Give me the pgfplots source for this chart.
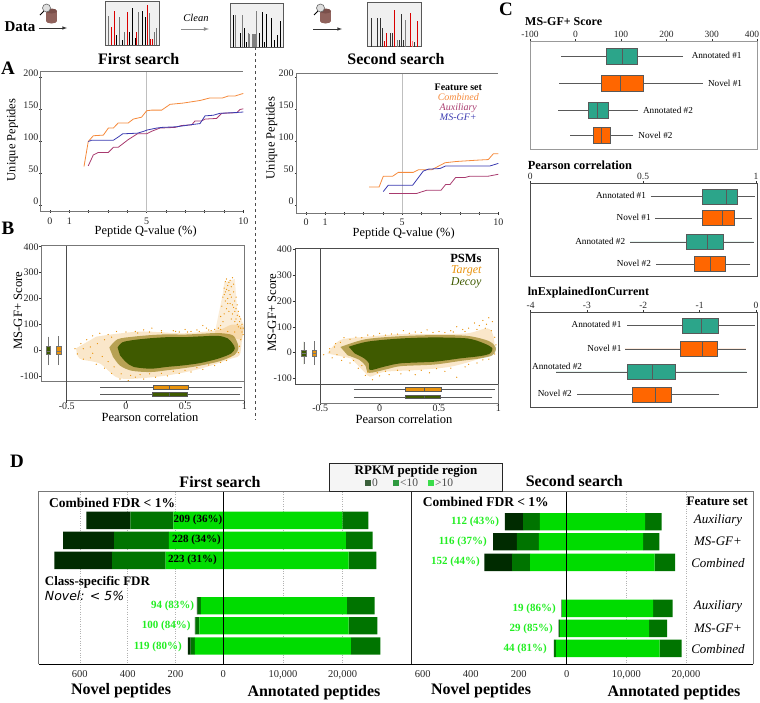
\documentclass[border=0pt]{standalone}
\usepackage{fontspec}
\setmainfont{Liberation Serif}
\newfontfamily\dv{DejaVu Sans}
\usepackage{pgfplots}
\usepgfplotslibrary{statistics}
\pgfplotsset{compat=1.18}

\definecolor{cComb}{HTML}{F58A3C}
\definecolor{cAux}{HTML}{A83A6E}
\definecolor{cMS}{HTML}{3A3AB0}
\definecolor{cTarget}{HTML}{E8920C}
\definecolor{cDecoy}{HTML}{3F5A00}
\definecolor{cTeal}{HTML}{2CA58A}
\definecolor{cOrg}{HTML}{FF6600}
\definecolor{cFrame}{HTML}{777777}
\definecolor{gLight}{HTML}{00DC00}
\definecolor{gMid}{HTML}{007400}
\definecolor{gDark}{HTML}{002B00}
\definecolor{gLabel}{HTML}{22EE22}
\definecolor{cCyl}{HTML}{8F625C}
\definecolor{cCylTop}{HTML}{7A4F4A}

\newcommand\fs[1]{\fontsize{#1}{#1}\selectfont}
\newcommand\T[4][]{\node[inner sep=0pt,#1] at (#2pt,-#3pt) {#4};}
% whisker low, q1, median, q3, whisker high, position, extent, fill
\newcommand\bx[8]{\addplot[boxplot/whisker extend=0,
  boxplot prepared={lower whisker=#1,lower quartile=#2,median=#3,upper quartile=#4,upper whisker=#5,draw position=#6,box extend=#7},
  draw=black!65,line width=0.7pt,fill=#8] coordinates {};}
\newcommand\bxv[8]{\addplot[boxplot/draw direction=y,boxplot/whisker extend=0,
  boxplot prepared={lower whisker=#1,lower quartile=#2,median=#3,upper quartile=#4,upper whisker=#5,draw position=#6,box extend=#7},
  draw=black!55,line width=0.5pt,fill=#8] coordinates {};}
\newcommand\cyl[2]{%
  \fill[cCyl] (#1pt,-#2pt) rectangle ++(11pt,-10pt);
  \fill[cCyl] (#1pt+5.5pt,-#2pt-10pt) ellipse (5.5pt and 2.5pt);
  \fill[cCylTop] (#1pt+5.5pt,-#2pt) ellipse (5.5pt and 2.5pt);
  \draw[black,line width=0.8pt] (#1pt-2pt,-#2pt+0pt) -- (#1pt-6pt,-#2pt-4pt);
  \filldraw[fill=gray!25,draw=black!60,line width=0.6pt] (#1pt+0.5pt,-#2pt+3pt) circle (4pt);}

\pgfplotsset{
  base/.style={scale only axis,anchor=north west,
    /pgf/number format/assume math mode=true,
    tick label style={font=\fs{10},text=black!85},
    tick align=outside,major tick length=2.5pt,tick style={black!80,line width=0.5pt}},
  spec/.style={base,ticks=none,axis line style={black!65,line width=1pt},
    axis background/.style={fill=black!6},ymin=0},
  qval/.style={base,axis lines=left,axis line style={-,cFrame,line width=0.8pt},
    xmax=10,xtick={0,1,...,10},xticklabels={0,1,,,,5,,,,,10},
    ytick={0,50,100,150,200},yticklabel style={yshift=4pt,xshift=2.5pt},
    xticklabel style={yshift=-1pt},clip=false},
  scat/.style={base,axis line style={draw=none},xmax=1,ymin=-194,ymax=404,
    xtick={-0.5,0,0.5,1},xticklabels={-0.5,0,0.5,1},
    ytick={-100,0,100,200,300,400},xtick pos=lower,ytick pos=left,
    yticklabel style={xshift=3pt},xticklabel style={yshift=3.5pt}},
  cbox/.style={base,y dir=reverse,ytick=\empty,xtick pos=upper,xticklabel pos=upper,
    tick label style={font=\fs{9.5},text=black!85},xticklabel style={yshift=-2pt},clip=false},
  dbar/.style={base,xbar stacked,bar width=17.4pt,y dir=reverse,ymin=491.7,ymax=664.3,
    xmin=0,ytick=\empty,axis line style={draw=none},major tick length=0pt,scaled x ticks=false,
    tick label style={font=\fs{10.5},text=black!85},xticklabel style={yshift=-3pt},
    grid style={dotted,black!30,line width=0.5pt}},
}

\pgfplotstableread{
x y
1.76 60
1.98 99
2.24 108
2.76 109
3.02 120
3.28 120
3.53 128
4.05 128
4.31 134
4.74 137
5.00 147
5.26 148
5.78 148
6.21 157
6.90 159
7.76 163
8.28 167
8.93 167
9.22 170
9.57 170
10 174
}\combOne
\pgfplotstableread{
x y
1.98 61
2.24 78
2.5 82
3.02 82
3.28 90
3.53 90
3.79 96
4.05 102
4.31 107
4.52 111
5 111
5.26 115
5.69 120
6.47 121
6.81 124
7.33 125
7.5 131
7.84 131
8.02 134
8.62 135
8.88 143
9.66 144
9.83 149
10 150
}\auxOne
\pgfplotstableread{
x y
1.98 99
2.16 101
3.28 101
3.53 106
3.76 111
4.52 112
4.86 115
5.03 117
5.52 120
5.78 121
6.55 122
7.24 125
7.76 127
8.02 139
8.45 140
8.79 143
9.48 144
10 145
}\msOne
\pgfplotstableread{
x y
3.28 28
3.8 28
4.02 45
4.51 45
4.80 51
5.58 51
5.84 55
6.53 55
7.23 66
7.83 68
8.87 70
9.48 71
9.74 80
10 80
}\combTwo
\pgfplotstableread{
x y
4.32 18
5.75 18
6.27 23
7.02 23
7.26 32
7.49 32
7.78 43
8.27 43
8.53 45
9.48 45
10 48
}\auxTwo
\pgfplotstableread{
x y
4.02 21
4.28 31
5.55 31
6.10 53
6.36 56
6.97 57
7.26 61
9.57 61
10 65
}\msTwo

\begin{document}
\begin{tikzpicture}
\path[use as bounding box] (0,0) rectangle (760pt,-702pt);

% ---- top workflow strip
\begin{axis}[spec,at={(105.7pt,-1.3pt)},width=53.6pt,height=43.7pt,xmin=317,xmax=478,ymax=131]
\addplot[ycomb,black!55,line width=1pt] coordinates {(325,87)(357,85)(374,40)(416,100)(448,97)(463,38)(470,50)};
\addplot[ycomb,black,line width=1pt] coordinates {(349,30)(366,15)(389,38)(397,110)(407,20)(427,102)(436,85)};
\addplot[ycomb,red!85!black,line width=1pt] coordinates {(334,55)(342,102)(382,100)(411,40)(443,120)(453,17)(458,17)};
\end{axis}
\begin{axis}[spec,at={(230.3pt,-3.3pt)},width=53pt,height=44pt,xmin=691,xmax=850,ymax=132]
\addplot[ycomb,black,line width=1pt] coordinates {(700,97)(722,42)(733,57)(740,17)(778,42)(787,105)(795,17)(800,100)(815,87)(825,22)(832,37)(841,79)};
\addplot[ycomb,black!50,line width=1pt] coordinates {(707,97)(727,97)(745,42)(750,39)(770,109)};
\addplot[ybar interval,fill=black!50,draw=none] coordinates {(755,39)(768,39)};
\end{axis}
\begin{axis}[spec,at={(367.7pt,-2.7pt)},width=53.6pt,height=44pt,xmin=1103,xmax=1264,ymax=132]
\addplot[ycomb,black!80,line width=1pt] coordinates {(1113,85)(1132,85)(1142,85)(1147,55)(1170,40)(1177,40)(1198,20)(1205,98)(1212,20)(1244,13)};
\addplot[ycomb,black!50,line width=1pt] coordinates {(1192,20)(1218,80)};
\addplot[ycomb,red!85!black,line width=1pt] coordinates {(1153,18)(1160,40)(1183,110)(1232,100)(1254,78)};
\addplot[ycomb,red!50,line width=1.4pt] coordinates {(1238,18)};
\end{axis}

\T{20}{27}{\fs{15}\bfseries Data}
\cyl{46}{11}\cyl{320}{11}
\draw[black!80,-latex,line width=0.6pt] (39pt,-28pt) -- (67pt,-28pt);
\draw[black!45,-latex,line width=0.8pt] (181pt,-29pt) -- (209pt,-29pt);
\draw[black!80,-latex,line width=0.6pt] (313pt,-29pt) -- (342pt,-29pt);
\T{196}{18}{\fs{10.5}\itshape Clean}
\T{138.7}{59}{\fs{16}\bfseries First search}
\T{396}{59}{\fs{16}\bfseries Second search}
\T{8}{68}{\fs{19}\bfseries A}
\T{8}{228}{\fs{19}\bfseries B}
\T{506}{9}{\fs{19}\bfseries C}
\T{17}{461}{\fs{19}\bfseries D}
\draw[black!70,dashed,line width=0.5pt] (255pt,-47pt) -- (255pt,-420pt);

% ---- panel A
\begin{axis}[qval,at={(40.7pt,-71pt)},width=202.6pt,height=140.7pt,xmin=-0.48,ymin=-10.5,ymax=209]
\draw[black!25,line width=1pt] (axis cs:5,-10.5) -- (axis cs:5,209);
\draw[cFrame,line width=0.8pt] (axis cs:-0.48,209) -- (axis cs:10,209);
\addplot[cComb,line width=0.8pt] table {\combOne};
\addplot[cAux,line width=0.8pt] table {\auxOne};
\addplot[cMS,line width=0.8pt] table {\msOne};
\end{axis}
\begin{axis}[qval,at={(296pt,-73.3pt)},width=202.3pt,height=140pt,xmin=-0.52,ymin=-13,ymax=205.8]
\draw[black!25,line width=1pt] (axis cs:5,-13) -- (axis cs:5,205.8);
\draw[cFrame,line width=0.8pt] (axis cs:-0.52,205.8) -- (axis cs:10,205.8);
\addplot[cComb,line width=0.8pt] table {\combTwo};
\addplot[cAux,line width=0.8pt] table {\auxTwo};
\addplot[cMS,line width=0.8pt] table {\msTwo};
\end{axis}
\T[rotate=90]{12.3}{140}{\fs{12.5}Unique Peptides}
\T[rotate=90]{271.7}{138}{\fs{12.5}Unique Peptides}
\T{145.7}{232}{\fs{12.4}Peptide Q-value (\%)}
\T{403.7}{233.5}{\fs{12.4}Peptide Q-value (\%)}
\T{458.3}{87}{\fs{10}\bfseries Feature set}
\T{458.3}{97.3}{\fs{10}\itshape\color{cComb}Combined}
\T{458.3}{107.7}{\fs{10}\itshape\color{cAux}Auxiliary}
\T{458.3}{117.3}{\fs{10}\itshape\color{cMS}MS-GF+}

% ---- panel B
\begin{axis}[scat,at={(41.7pt,-245.7pt)},width=202.6pt,height=154.5pt,xmin=-0.711]
\addplot[fill=cTarget,draw=none,opacity=0.22,smooth] coordinates {(-.25,52)(-.08,63)(.15,72)(.49,65)(.78,78)(.89,98)(.99,92)(.98,39)(.96,-20)(.89,-33)(.63,-72)(.35,-98)(.065,-111)(-.08,-105)(-.22,-52)(-.39,-33)(-.42,7)};
\addplot[fill=cTarget,draw=none,opacity=0.16] coordinates {(.75,65)(.82,222)(.83,262)(.92,275)(.94,157)(1.0,92)(.98,39)(.88,50)};
\addplot[fill=cTarget!45!cDecoy,draw=none,opacity=0.6,smooth] coordinates {(-.14,10)(-.07,42)(.065,52)(.21,58)(.35,61)(.49,60)(.63,63)(.78,66)(.90,58)(.94,30)(.95,7)(.92,-18)(.80,-42)(.63,-60)(.49,-70)(.35,-78)(.21,-85)(.05,-80)(-.05,-60)(-.11,-25)};
\addplot[only marks,mark=*,mark size=0.35pt,cTarget] coordinates {(.80,130)(.81,170)(.82,205)(.83,240)(.84,265)(.85,275)(.86,250)(.87,230)(.88,270)(.89,245)(.90,280)(.91,225)(.92,190)(.93,160)(.94,175)(.95,150)(.96,130)(.97,120)(.98,100)(.99,85)(.84,190)(.85,160)(.86,200)(.87,150)(.88,180)(.89,120)(.90,140)(.91,165)(.92,110)(.93,120)(.94,100)(.95,90)(.83,140)(.82,110)(.80,95)(.78,85)(.75,80)(.72,75)(.68,85)(.65,95)(.60,78)(.55,72)(.50,80)(.45,70)(.40,75)(.30,75)(.22,85)(.15,78)(.08,72)(0,70)(-.08,72)(-.15,60)(-.22,65)(-.28,55)(-.33,40)(-.38,25)(-.43,5)(-.41,-15)(-.36,-35)(-.30,-30)(-.25,-55)(-.18,-70)(-.12,-90)(-.05,-112)(.02,-118)(.08,-105)(.15,-112)(.25,-105)(.35,-100)(.45,-90)(.55,-85)(.65,-75)(.75,-60)(.85,-40)
(.83,215)(.85,235)(.87,262)(.89,205)(.91,255)(.93,205)(.84,225)(.86,180)(.88,215)(.90,175)(.92,150)(.94,135)(.96,110)(.98,70)(.97,85)(.99,60)(.97,40)(.96,15)(.95,-10)(-.18,40)(-.12,50)(-.24,25)(-.30,12)(-.36,5)(-.28,-12)(-.20,-25)(-.15,-45)(-.10,-65)(-.04,-92)(.04,-98)(.12,-95)(.20,-92)(.30,-90)(.40,-82)(.50,-78)(.60,-68)(.70,-58)(.80,-48)(.88,-25)(.10,66)(.20,70)(.30,68)(.42,72)(.52,70)(.62,72)(.70,78)(.80,80)(.86,72)(.92,70)};
\addplot[fill=cDecoy,draw=none,smooth] coordinates {(-.07,10)(-.03,30)(.065,39)(.21,46)(.35,50)(.49,50)(.63,53)(.78,55)(.86,45)(.90,26)(.92,7)(.89,-13)(.78,-33)(.63,-50)(.49,-59)(.35,-65)(.21,-72)(.065,-65)(0,-46)(-.05,-20)};
\bxv{-58}{-17}{-3}{13}{52}{-.656}{.04}{cDecoy}
\bxv{-58}{-17}{-3}{13}{54}{-.568}{.04}{cTarget}
\bx{-.218}{.23}{.371}{.53}{.977}{-144.5}{13}{cTarget}
\bx{-.218}{.224}{.371}{.52}{.963}{-172}{13}{cDecoy}
\end{axis}
\begin{axis}[scat,at={(295pt,-248.3pt)},width=203.3pt,height=154.5pt,xmin=-0.713]
\addplot[fill=cTarget,draw=none,opacity=0.22,smooth] coordinates {(-.44,-3)(-.33,49)(-.10,62)(.18,72)(.46,72)(.74,75)(.91,94)(.96,62)(.96,4)(.85,-22)(.60,-54)(.32,-67)(.04,-74)(-.08,-93)(-.13,-74)(-.24,-22)};
\addplot[fill=cTarget!45!cDecoy,draw=none,opacity=0.6,smooth] coordinates {(-.33,22)(-.12,52)(.18,64)(.46,68)(.74,65)(.92,45)(.98,18)(.95,-10)(.85,-22)(.68,-32)(.46,-46)(.18,-52)(.06,-64)(-.09,-78)(-.12,-50)(-.17,-28)(-.27,-10)};
\addplot[only marks,mark=*,mark size=0.35pt,cTarget] coordinates {(.95,120)(.92,135)(.90,110)(.87,125)(.84,105)(.80,115)(.75,95)(.70,90)(.65,100)(.60,85)(.50,82)(.40,88)(.30,80)(.20,85)(.10,72)(0,75)(-.10,68)(-.20,60)(-.30,58)(-.37,35)(-.42,15)(-.47,-8)(-.40,-20)(-.32,-30)(-.25,-40)(-.18,-60)(-.12,-88)(-.06,-105)(0,-90)(.08,-85)(.18,-82)(.30,-85)(.42,-78)(.55,-72)(.65,-95)(.72,-55)(.82,-40)(.92,-25)(.97,-5)
(.98,30)(.97,60)(.94,85)(.89,95)(.82,90)(.72,82)(.62,80)(.55,78)(.45,78)(.35,78)(.25,75)(.15,72)(.05,68)(-.05,65)(-.15,58)(-.25,52)(-.33,40)(-.38,22)(-.42,3)(-.36,-8)(-.30,-18)(-.22,-30)(-.15,-50)(-.10,-75)(-.02,-78)(.05,-72)(.15,-68)(.25,-70)(.35,-68)(.48,-62)(.60,-60)(.75,-45)(.87,-28)};
\addplot[fill=cDecoy,draw=none,smooth] coordinates {(-.26,23)(-.10,43)(.18,55)(.46,59)(.74,55)(.88,36)(.95,17)(.93,-3)(.85,-13)(.68,-22)(.46,-35)(.18,-41)(.04,-54)(-.08,-67)(-.09,-41)(-.13,-22)(-.21,-3)};
\bxv{-45}{-13}{-3}{10}{43}{-.638}{.04}{cDecoy}
\bxv{-48}{-13}{-3}{10}{45}{-.55}{.04}{cTarget}
\bx{-.22}{.22}{.374}{.52}{.97}{-142}{13}{cTarget}
\bx{-.216}{.216}{.374}{.508}{.95}{-172}{13}{cDecoy}
\end{axis}
% scatter frames
\draw[cFrame,line width=0.9pt] (41.7pt,-245.7pt) rectangle (244.3pt,-381.7pt);
\draw[cFrame,line width=0.6pt] (244.3pt,-381.7pt) -- (244.3pt,-400.2pt) -- (66.7pt,-400.2pt);
\draw[black!70,line width=0.6pt] (66.7pt,-245.7pt) -- (66.7pt,-400.2pt);
\draw[black!70,line width=0.7pt] (295pt,-248.3pt) rectangle (498.3pt,-384.3pt);
\draw[cFrame,line width=0.6pt] (498.3pt,-384.3pt) -- (498.3pt,-402.8pt) -- (320.3pt,-402.8pt);
\draw[black!70,line width=0.6pt] (320.3pt,-248.3pt) -- (320.3pt,-402.8pt);
\T[rotate=90]{18}{310.7}{\fs{12.7}MS-GF+ Score}
\T[rotate=90]{272}{312.7}{\fs{12.7}MS-GF+ Score}
\T{150}{417}{\fs{12.5}Pearson correlation}
\T{404}{419}{\fs{12.5}Pearson correlation}
\T[anchor=east]{481.7}{258.3}{\fs{12.5}\bfseries PSMs}
\T[anchor=east]{481.7}{270.7}{\fs{12}\itshape\color{cTarget}Target}
\T[anchor=east]{481.7}{283.3}{\fs{12}\itshape\color{cDecoy}Decoy}

% ---- panel C
\begin{axis}[cbox,at={(530pt,-41.7pt)},width=227.3pt,height=107.6pt,xmin=-100,xmax=400,ymin=125,ymax=448,
  xtick={-100,0,100,200,300,400},xticklabels={-100,0,100,200,300,{}},axis line style={black!40,line width=1pt}]
\bx{-31.8}{69}{103}{137}{237}{168}{48}{cTeal}
\bx{-35.5}{58}{98}{148.5}{280}{250}{48}{cOrg}
\bx{-38.4}{27.6}{48}{72.3}{138}{331}{48}{cTeal}
\bx{-12}{40}{58}{77.4}{127}{406}{48}{cOrg}
\node[font=\fs{9.2}] at (axis cs:310.6,167) {Annotated \#1};
\node[font=\fs{9.2}] at (axis cs:329,250) {Novel \#1};
\node[font=\fs{9.2}] at (axis cs:203.5,330) {Annotated \#2};
\node[font=\fs{9.2}] at (axis cs:176,405) {Novel \#2};
\end{axis}
\T{752}{34}{\fs{9.5}\color{black!85}400}
\begin{axis}[cbox,at={(530.3pt,-183.3pt)},width=227pt,height=92.7pt,xmin=0,xmax=1.006,ymin=550,ymax=828,
  xtick={0,0.5,1},xticklabels={0,0.5,1},axis line style={black!70,line width=0.7pt}]
\bx{.533}{.764}{.869}{.919}{.995}{590}{45}{cTeal}
\bx{.552}{.764}{.852}{.905}{.981}{655}{45}{cOrg}
\bx{.442}{.690}{.784}{.857}{.990}{726}{45}{cTeal}
\bx{.557}{.725}{.799}{.863}{.975}{793}{45}{cOrg}
\node[font=\fs{9.2}] at (axis cs:.402,587) {Annotated \#1};
\node[font=\fs{9.2}] at (axis cs:.458,652) {Novel \#1};
\node[font=\fs{9.2}] at (axis cs:.31,725) {Annotated \#2};
\node[font=\fs{9.2}] at (axis cs:.459,791) {Novel \#2};
\end{axis}
\begin{axis}[cbox,at={(530.6pt,-312.3pt)},width=226.7pt,height=95pt,xmin=-4,xmax=0.024,ymin=937,ymax=1222,
  xtick={-4,-3,-2,-1,0},axis line style={black!70,line width=0.7pt}]
\bx{-2.284}{-1.314}{-.970}{-.663}{-.018}{977}{45}{cTeal}
\bx{-2.325}{-1.349}{-.959}{-.686}{-.178}{1047}{45}{cOrg}
\bx{-3.55}{-2.278}{-1.834}{-1.426}{-.166}{1116}{45}{cTeal}
\bx{-3.17}{-2.19}{-1.781}{-1.503}{-.651}{1184}{45}{cOrg}
\node[font=\fs{9.2}] at (axis cs:-2.83,973) {Annotated \#1};
\node[font=\fs{9.2}] at (axis cs:-2.69,1045) {Novel \#1};
\node[font=\fs{9.2}] at (axis cs:-3.53,1100) {Annotated \#2};
\node[font=\fs{9.2}] at (axis cs:-3.57,1181) {Novel \#2};
\end{axis}
\T[anchor=west]{525}{21.7}{\fs{12}\bfseries MS-GF+ Score}
\T[anchor=west]{527.7}{165}{\fs{12.4}\bfseries Pearson correlation}
\T[anchor=west]{527.7}{293}{\fs{12}\bfseries lnExplainedIonCurrent}

% ---- panel D, first search
\begin{axis}[dbar,at={(38.7pt,-491.7pt)},width=184.6pt,height=172.6pt,x dir=reverse,xmax=772,
  xtick={200,400,600},xmajorgrids]
\addplot[fill=gLight,draw=none] coordinates {(209,520.3)(228,540.3)(241,560.3)(94,605.7)(100,625.7)(119,646)};
\addplot[fill=gMid,draw=none] coordinates {(180,520.3)(229,540.3)(224,560.3)(13,605.7)(17,625.7)(18,646)};
\addplot[fill=gDark,draw=none] coordinates {(184,520.3)(213,540.3)(241,560.3)(4,605.7)(2,625.7)(11,646)};
\end{axis}
\begin{axis}[dbar,at={(223.3pt,-491.7pt)},width=188.4pt,height=172.6pt,xmax=31574,
  xtick={0,10000,20000},xticklabels={0,{10,000},{20,000}},xmajorgrids]
\addplot[fill=gLight,draw=none] coordinates {(19944,520.3)(20560,540.3)(21000,560.3)(20730,605.7)(21000,625.7)(21400,646)};
\addplot[fill=gMid,draw=none] coordinates {(4356,520.3)(4470,540.3)(4640,560.3)(4630,605.7)(4810,625.7)(4910,646)};
\end{axis}
% ---- panel D, second search
\begin{axis}[dbar,at={(411.7pt,-491.7pt)},width=155pt,height=172.6pt,x dir=reverse,xmax=646,
  xtick={200,400,600}]
\addplot[fill=gLight,draw=none] coordinates {(112,521.7)(116,541.7)(152,562.3)(19,608.3)(29,628.3)(44,648.3)};
\addplot[fill=gMid,draw=none] coordinates {(70,521.7)(92,541.7)(76,562.3)(2,608.3)(3,628.3)(8,648.3)};
\addplot[fill=gDark,draw=none] coordinates {(76,521.7)(99,541.7)(115,562.3)(1,608.3)(2,628.3)(2,648.3)};
\end{axis}
\begin{axis}[dbar,at={(566.7pt,-491.7pt)},width=186.6pt,height=172.6pt,xmax=31274,
  xtick={0,10000,20000},xticklabels={0,{10,000},{20,000}},xmajorgrids]
\addplot[fill=gLight,draw=none] coordinates {(13130,521.7)(12790,541.7)(14750,562.3)(14470,608.3)(13800,628.3)(15590,648.3)};
\addplot[fill=gMid,draw=none] coordinates {(2790,521.7)(2740,541.7)(3410,562.3)(3300,608.3)(3020,628.3)(3680,648.3)};
\end{axis}
% frames
\draw[cFrame,line width=1pt] (753.3pt,-664.3pt) -- (753.3pt,-491.7pt) -- (38.7pt,-491.7pt) -- (38.7pt,-664.3pt);
\draw[black,line width=0.8pt] (38.7pt,-664.3pt) -- (753.3pt,-664.3pt);
\draw[black!85,line width=1.4pt] (411.7pt,-491.7pt) -- (411.7pt,-664.3pt);
\draw[black,line width=1.4pt] (223.3pt,-491.7pt) -- (223.3pt,-664.3pt);
\draw[black,line width=1.4pt] (566.7pt,-491.7pt) -- (566.7pt,-664.3pt);
% legend box
\filldraw[fill=black!4,draw=black!85,line width=0.7pt] (329.3pt,-491.7pt) rectangle (502.3pt,-463.3pt);
\T{416}{471.7}{\fs{13}\bfseries RPKM peptide region}
\definecolor{lgA}{HTML}{3A5F3A}\definecolor{lgB}{HTML}{2F9A3F}\definecolor{lgC}{HTML}{3ADC4A}
\fill[lgA] (365pt,-480pt) rectangle ++(6pt,-6pt);
\fill[lgB] (392.5pt,-480pt) rectangle ++(6pt,-6pt);
\fill[lgC] (427.5pt,-480pt) rectangle ++(6pt,-6pt);
\T[anchor=west]{372}{483}{\fs{11.5}\color{black!70}0}
\T[anchor=west]{400}{483}{\fs{11.5}\color{black!70}<10}
\T[anchor=west]{435}{483}{\fs{11.5}\color{black!70}>10}
\T{220}{481.7}{\fs{16}\bfseries First search}
\T{574.3}{481}{\fs{16}\bfseries Second search}
\T[anchor=west]{49}{503}{\fs{13.5}\bfseries Combined FDR < 1\%}
\T[anchor=west]{422.7}{502.3}{\fs{13.5}\bfseries Combined FDR < 1\%}
\T[anchor=west]{44.7}{582.7}{\fs{13}\bfseries Class-specific FDR}
\T[anchor=west]{44.7}{596}{\fs{12.5}\dv\itshape Novel: < 5\%}
\T{198}{520}{\fs{11}\bfseries 209 (36\%)}
\T{196.5}{540}{\fs{11}\bfseries 228 (34\%)}
\T{192.5}{560}{\fs{11}\bfseries 223 (31\%)}
\T[anchor=east]{194.3}{605.7}{\fs{11}\bfseries\color{gLabel}94 (83\%)}
\T[anchor=east]{190.7}{625.7}{\fs{11}\bfseries\color{gLabel}100 (84\%)}
\T[anchor=east]{182}{647}{\fs{11}\bfseries\color{gLabel}119 (80\%)}
\T[anchor=east]{499.3}{521.7}{\fs{11}\bfseries\color{gLabel}112 (43\%)}
\T[anchor=east]{487}{541.7}{\fs{11}\bfseries\color{gLabel}116 (37\%)}
\T[anchor=east]{480}{562.3}{\fs{11}\bfseries\color{gLabel}152 (44\%)}
\T[anchor=east]{556}{609}{\fs{11}\bfseries\color{gLabel}19 (86\%)}
\T[anchor=east]{553}{629}{\fs{11}\bfseries\color{gLabel}29 (85\%)}
\T[anchor=east]{547}{649.3}{\fs{11}\bfseries\color{gLabel}44 (81\%)}
\T{717.3}{501.7}{\fs{13}\bfseries Feature set}
\T{718}{520}{\fs{13}\itshape Auxiliary}
\T{718}{541}{\fs{13}\itshape MS-GF+}
\T{718}{563.3}{\fs{13}\itshape Combined}
\T{718}{606.7}{\fs{13}\itshape Auxiliary}
\T{718}{628}{\fs{13}\itshape MS-GF+}
\T{718}{649.3}{\fs{13}\itshape Combined}
\T{121}{690.7}{\fs{16}\bfseries Novel peptides}
\T{314}{692.7}{\fs{16}\bfseries Annotated peptides}
\T{481}{690.7}{\fs{16}\bfseries Novel peptides}
\T{674}{692.7}{\fs{16}\bfseries Annotated peptides}
\end{tikzpicture}
\end{document}
